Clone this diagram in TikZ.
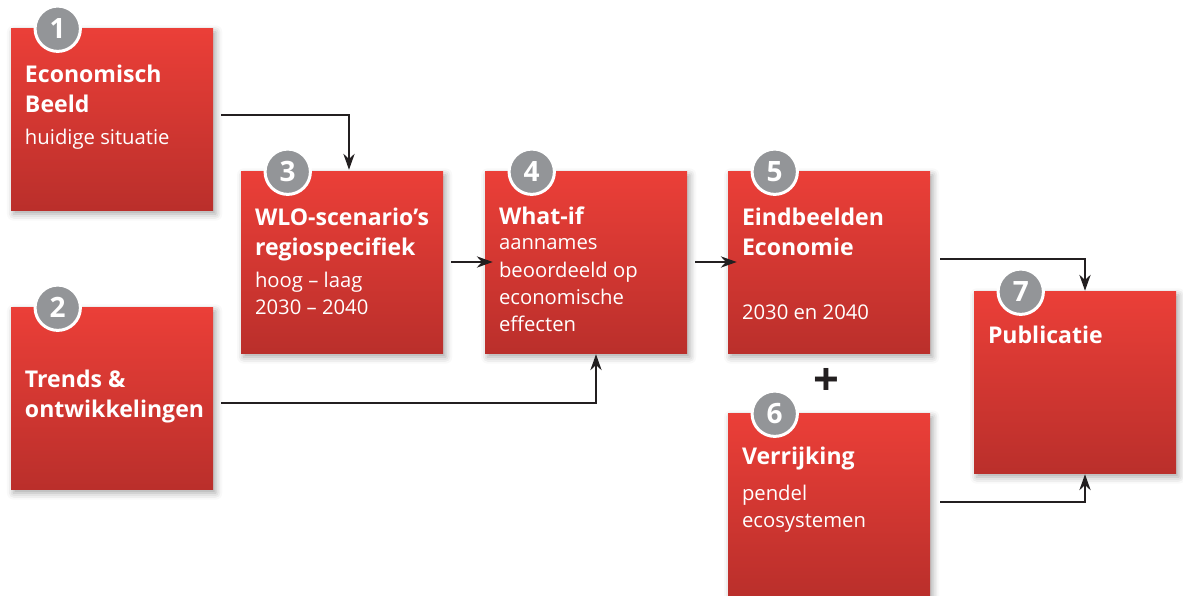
\documentclass[tikz,border=0pt]{standalone}
\usepackage{fontspec}
\setmainfont{Open Sans}
\usetikzlibrary{
  arrows.meta,
  shadows.blur
}

\definecolor{boxtop}{HTML}{EB3F38}
\definecolor{boxbottom}{HTML}{BA2F2B}
\definecolor{numgray}{HTML}{939598}
\definecolor{linedark}{HTML}{231F20}

\tikzset{
  stage/.style={rectangle, inner sep=0, minimum width=151.5pt, minimum height=136.5pt,
    top color=boxtop, bottom color=boxbottom,
    blur shadow={shadow xshift=2pt, shadow yshift=-3pt, shadow blur radius=5pt, shadow opacity=35}},
  stagenum/.style={circle, inner sep=0, minimum size=34pt, fill=numgray, draw=white,
    line width=2.25pt, text=white, font=\fontsize{21}{21}\selectfont\bfseries},
  stagetitle/.style={anchor=base west, inner sep=0, align=left, text=white,
    font=\fontsize{17.3}{23}\selectfont\bfseries},
  stagetext/.style={anchor=base west, inner sep=0, align=left, text=white,
    font=\fontsize{15.2}{20.5}\selectfont},
  flow/.style={draw=linedark, line width=1.1pt, -{Stealth[length=12pt,width=8.5pt]}}
}

\begin{document}
\begin{tikzpicture}[x=0.75pt, y=-0.75pt]
  \useasboundingbox (0,0) rectangle (1183,596);

  % stages
  \node[stage] (b1) at (112,119) {};
  \node[stage] (b2) at (112,398) {};
  \node[stage] (b3) at (342,262) {};
  \node[stage] (b4) at (586,262) {};
  \node[stage] (b5) at (829,262) {};
  \node[stage] (b6) at (829,504) {};
  \node[stage] (b7) at (1075,382) {};

  % numbers
  \foreach \i in {1,...,7}
    \node[stagenum] (n\i) at ([shift={(47,1)}]b\i.north west) {\i};

  % texts (base = last line)
  \node[stagetitle] (t1) at ([shift={(14,85)}]b1.north west) {Economisch\\Beeld};
  \node[stagetext] (s1) at ([shift={(14,117)}]b1.north west) {huidige situatie};
  \node[stagetitle] (t2) at ([shift={(14,111)}]b2.north west) {Trends \&\\ontwikkelingen};
  \node[stagetitle] (t3) at ([shift={(14,85)}]b3.north west) {WLO-scenario’s\\regiospecifiek};
  \node[stagetext] (s3) at ([shift={(14,144)}]b3.north west) {hoog – laag\\2030 – 2040};
  \node[stagetitle] (t4) at ([shift={(14,54)}]b4.north west) {What-if};
  \node[stagetext] (s4) at ([shift={(14,161)}]b4.north west) {aannames\\beoordeeld op\\economische\\effecten};
  \node[stagetitle] (t5) at ([shift={(14,85)}]b5.north west) {Eindbeelden\\Economie};
  \node[stagetext] (s5) at ([shift={(14,149)}]b5.north west) {2030 en 2040};
  \node[stagetitle] (t6) at ([shift={(14,52)}]b6.north west) {Verrijking};
  \node[stagetext] (s6) at ([shift={(14,115)}]b6.north west) {pendel\\ecosystemen};
  \node[stagetitle] (t7) at ([shift={(14,53)}]b7.north west) {Publicatie};

  \node[text=linedark, font=\fontsize{34}{34}\selectfont\bfseries] (plus) at (826,382) {+};

  % connectors
  \draw[flow] ([shift={(8,-4)}]b1.east) -| ([shift={(7,-1)}]b3.north);
  \draw[flow] ([shift={(8,0)}]b3.east) -- ([shift={(8,0)}]b4.west);
  \draw[flow] ([shift={(8,0)}]b4.east) -- ([shift={(9,0)}]b5.west);
  \draw[flow] ([shift={(8,5)}]b2.east) -| ([shift={(10,1)}]b4.south);
  \draw[flow] ([shift={(10,-3)}]b5.east) -| ([shift={(10,0)}]b7.north);
  \draw[flow] ([shift={(10,-2)}]b6.east) -| ([shift={(10,1)}]b7.south);
\end{tikzpicture}
\end{document}
